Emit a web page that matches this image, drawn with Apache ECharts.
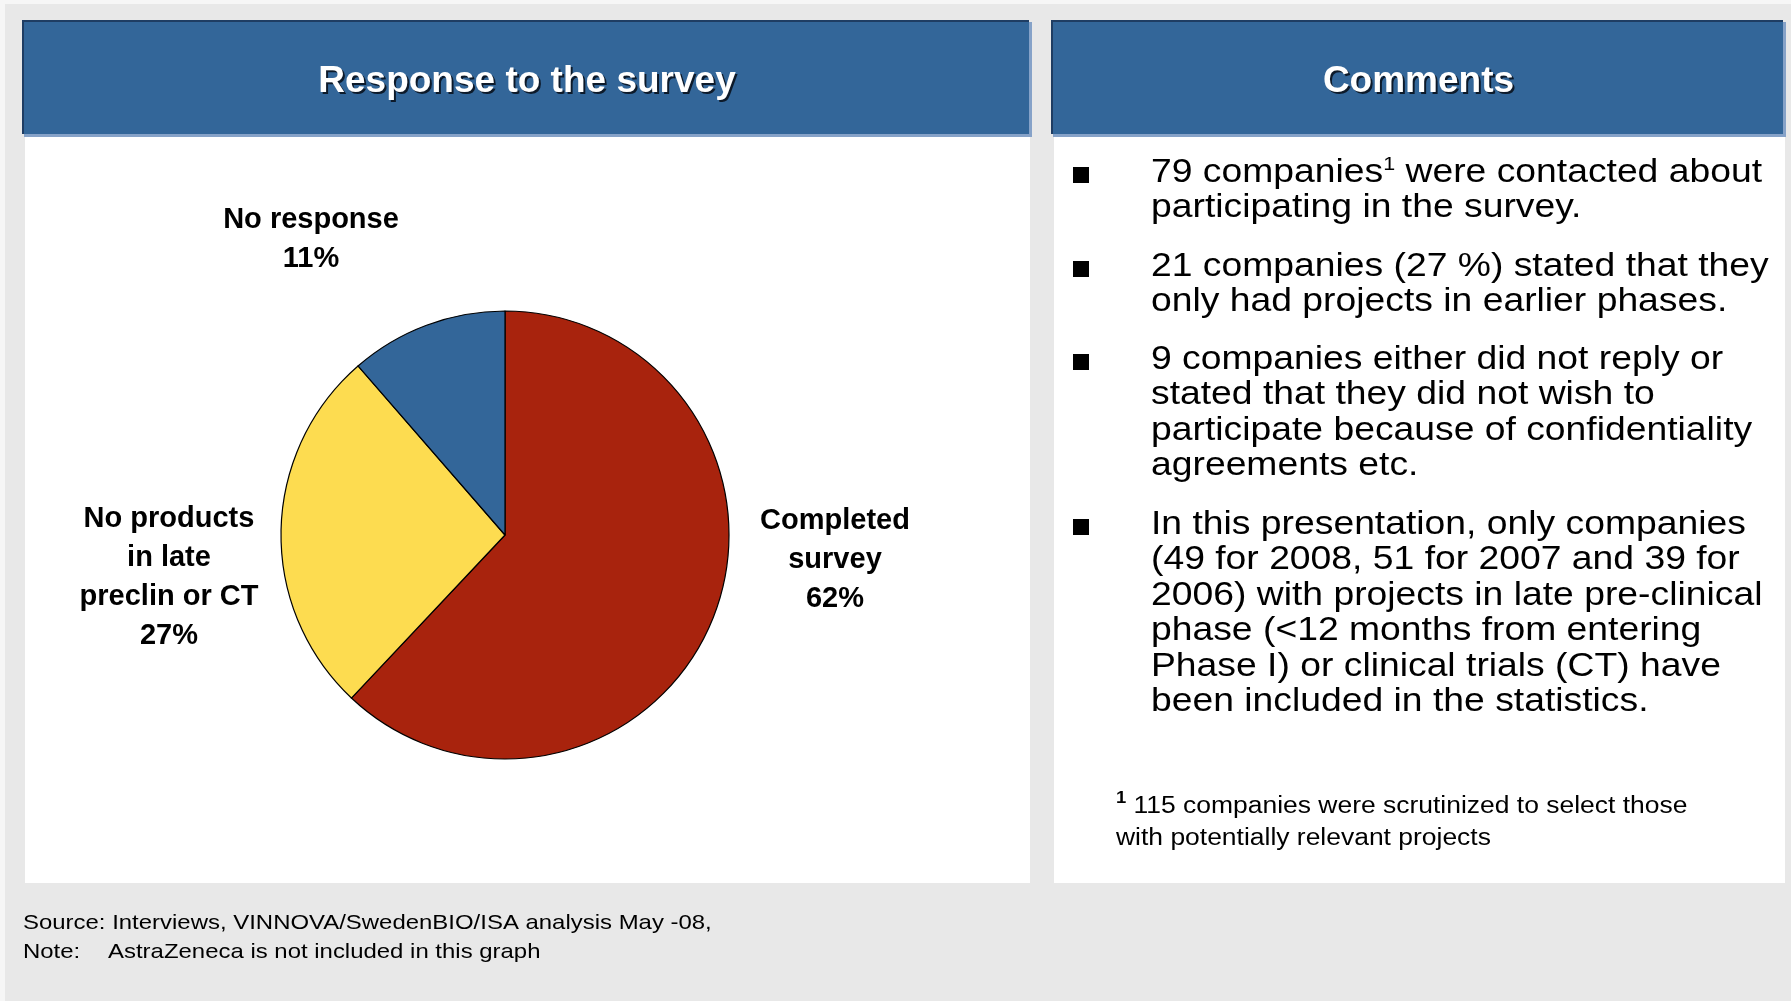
<!DOCTYPE html>
<html>
<head>
<meta charset="utf-8">
<title>Response to the survey</title>
<script src="https://cdn.jsdelivr.net/npm/echarts@6/dist/echarts.min.js"></script>
<style>
  html, body { margin: 0; padding: 0; background: #f6f6f6; }
  #chart { width: 1791px; height: 1001px; }
</style>
</head>
<body>
<div id="chart"></div>
<script>
// survey outcome (79 companies contacted)
const sliceNames = ['Completed\nsurvey', 'No products\nin late\npreclin or CT', 'No response'];
const sliceValues = [49, 21, 9];

const leftTitle = 'Response to the survey';
const rightTitle = 'Comments';
const comments = [
  '79 companies{sup|1} were contacted about\nparticipating in the survey.',
  '21 companies (27 %) stated that they\nonly had projects in earlier phases.',
  '9 companies either did not reply or\nstated that they did not wish to\nparticipate because of confidentiality\nagreements etc.',
  'In this presentation, only companies\n(49 for 2008, 51 for 2007 and 39 for\n2006) with projects in late pre-clinical\nphase (<12 months from entering\nPhase I) or clinical trials (CT) have\nbeen included in the statistics.'
];
const footnote = '{sup|1} 115 companies were scrutinized to select those\nwith potentially relevant projects';
const sourceLine = 'Source: Interviews, VINNOVA/SwedenBIO/ISA analysis May -08,';
const noteLabel = 'Note:';
const noteText = 'AstraZeneca is not included in this graph';

const FONT = '"Liberation Sans", Arial, Helvetica, sans-serif';
const colors = ['#a8230d', '#fddc50', '#336699'];
const labelPos = [[835, 560], [169, 577], [311, 239]];

const chart = echarts.init(document.getElementById('chart'), null, { renderer: 'canvas' });

function header(x, w, title) {
  return [
    { type: 'rect', z: 0, shape: { x: x + 1, y: 22, width: w, height: 115 }, style: { fill: '#86a2c8' } },
    { type: 'rect', z: 0, shape: { x: x - 1, y: 20, width: w - 1, height: 114 }, style: { fill: '#1f3d63' } },
    { type: 'rect', z: 0, shape: { x: x + 1, y: 22, width: w - 3, height: 112 }, style: { fill: '#336699' } },
    {
      type: 'text', z: 1, x: x + w / 2 + 2, y: 84,
      style: { text: title, fill: '#0d1a2a', font: 'bold 37px ' + FONT, align: 'center', verticalAlign: 'middle' }
    },
    {
      type: 'text', z: 1, x: x + w / 2, y: 82,
      style: { text: title, fill: '#fff', font: 'bold 37px ' + FONT, align: 'center', verticalAlign: 'middle' }
    }
  ];
}

const commentTops = [155, 249, 342, 507];
const commentEls = [];
comments.forEach((txt, i) => {
  commentEls.push({ type: 'rect', z: 1, shape: { x: 1073, y: commentTops[i] + 12, width: 16, height: 16 }, style: { fill: '#000' } });
  commentEls.push({
    type: 'text', z: 1, x: 1151, y: commentTops[i], scaleX: 1.13,
    style: {
      text: txt, fill: '#000', font: '33px ' + FONT, lineHeight: 35.5, verticalAlign: 'top',
      rich: { sup: { fontSize: 19, fontFamily: FONT, lineHeight: 24, verticalAlign: 'top', fill: '#000' } }
    }
  });
});

chart.setOption({
  animation: false,
  color: colors,
  graphic: {
    elements: [
      { type: 'rect', z: 0, shape: { x: 5, y: 4, width: 1786, height: 997 }, style: { fill: '#e8e8e8' } },
      { type: 'rect', z: 0, shape: { x: 25, y: 134, width: 1005, height: 749 }, style: { fill: '#ffffff' } },
      { type: 'rect', z: 0, shape: { x: 1054, y: 134, width: 731, height: 749 }, style: { fill: '#ffffff' } },
      ...header(23, 1008, leftTitle),
      ...header(1052, 733, rightTitle),
      ...commentEls,
      {
        type: 'text', z: 1, x: 1116, y: 791, scaleX: 1.15,
        style: {
          text: footnote, fill: '#000', font: '23px ' + FONT, lineHeight: 32, verticalAlign: 'top',
          rich: { sup: { fontSize: 16, fontWeight: 'bold', fontFamily: FONT, lineHeight: 22, verticalAlign: 'top', fill: '#000' } }
        }
      },
      {
        type: 'text', z: 1, x: 23, y: 909, scaleX: 1.14,
        style: { text: sourceLine + '\n' + noteLabel, fill: '#000', font: '21px ' + FONT, lineHeight: 29, verticalAlign: 'top' }
      },
      {
        type: 'text', z: 1, x: 108, y: 938, scaleX: 1.14,
        style: { text: noteText, fill: '#000', font: '21px ' + FONT, lineHeight: 29, verticalAlign: 'top' }
      }
    ]
  },
  series: [{
    type: 'pie',
    z: 3,
    center: [505, 535],
    radius: 224,
    startAngle: 90,
    clockwise: true,
    avoidLabelOverlap: false,
    percentPrecision: 0,
    itemStyle: { borderColor: '#000', borderWidth: 1.2 },
    emphasis: { disabled: true },
    label: {
      show: true,
      position: 'outside',
      formatter: '{b}\n{d}%',
      color: '#000',
      fontFamily: FONT,
      fontWeight: 'bold',
      fontSize: 29,
      lineHeight: 39,
      align: 'center'
    },
    labelLine: { show: false },
    labelLayout: params => {
      const p = labelPos[params.dataIndex];
      return { x: p[0], y: p[1], align: 'center', verticalAlign: 'middle' };
    },
    data: sliceNames.map((name, i) => ({ name, value: sliceValues[i] }))
  }]
});
</script>
</body>
</html>
